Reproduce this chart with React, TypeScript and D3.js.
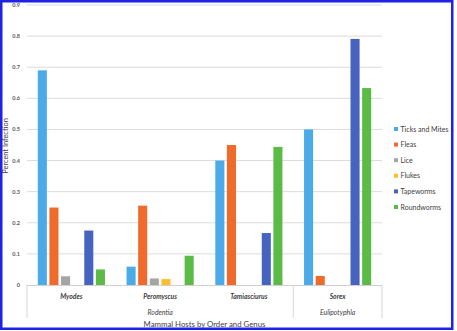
import React, { useRef, useEffect } from "react";
import * as d3 from "d3";

// infection rates by host genus
const genera = ["Myodes", "Peromyscus", "Tamiasciurus", "Sorex"];
const orders = [
  { name: "Rodentia", from: "Myodes", to: "Tamiasciurus" },
  { name: "Eulipotyphla", from: "Sorex", to: "Sorex" },
];
const parasites = ["Ticks and Mites", "Fleas", "Lice", "Flukes", "Tapeworms", "Roundworms"];
const colors = ["#4aabe8", "#ef6a2b", "#a5a5a5", "#fbbf2a", "#4763c0", "#5cba47"];

const ticksAndMites = [0.69, 0.059, 0.4, 0.5];
const fleas = [0.249, 0.255, 0.45, 0.029];
const lice = [0.028, 0.021, 0, 0];
const flukes = [0, 0.019, 0, 0];
const tapeworms = [0.175, 0, 0.167, 0.791];
const roundworms = [0.05, 0.094, 0.444, 0.633];

const yTicks = [0, 0.1, 0.2, 0.3, 0.4, 0.5, 0.6, 0.7, 0.8, 0.9];

const seriesValues = [ticksAndMites, fleas, lice, flukes, tapeworms, roundworms];

const App = () => {
  const chartRef = useRef<HTMLDivElement>(null);

  useEffect(() => {
    const width = 457;
    const height = 331;
    const left = 27;
    const right = 382;
    const top = 5;
    const bottom = 285;
    const font = "Lato, 'Open Sans', sans-serif";

    const root = d3.select(chartRef.current);
    root.selectAll("*").remove();

    const svg = root
      .append("svg")
      .attr("width", width)
      .attr("height", height)
      .style("display", "block")
      .style("background", "#fff");

    const x0 = d3.scaleBand().domain(genera).range([left, right]).padding(0);
    const x1 = d3
      .scaleBand()
      .domain(parasites)
      .range([0, x0.bandwidth()])
      .paddingInner(0.22)
      .paddingOuter(0.93);
    const y = d3.scaleLinear().domain([0, 0.9]).range([bottom, top]);

    // gridlines
    svg
      .append("g")
      .selectAll("line")
      .data(yTicks.slice(1))
      .enter()
      .append("line")
      .attr("x1", left)
      .attr("x2", right)
      .attr("y1", (d) => y(d))
      .attr("y2", (d) => y(d))
      .attr("stroke", "#dcdcdc")
      .attr("stroke-width", 1);

    // y tick labels
    svg
      .append("g")
      .selectAll("text")
      .data(yTicks)
      .enter()
      .append("text")
      .attr("x", 20)
      .attr("y", (d) => y(d) + 2)
      .attr("text-anchor", "end")
      .attr("font-family", font)
      .attr("font-size", 5.5)
      .attr("font-weight", 700)
      .attr("fill", "#595959")
      .text((d) => (d === 0 ? "0" : d3.format(".1f")(d)));

    // bars
    const groups = svg
      .append("g")
      .selectAll("g")
      .data(genera)
      .enter()
      .append("g")
      .attr("transform", (g) => `translate(${x0(g)},0)`);

    groups
      .selectAll("rect")
      .data((g, gi) => parasites.map((p, pi) => ({ p, pi, v: seriesValues[pi][gi] })))
      .enter()
      .filter((d) => d.v > 0)
      .append("rect")
      .attr("x", (d) => x1(d.p) as number)
      .attr("width", x1.bandwidth())
      .attr("y", (d) => y(d.v))
      .attr("height", (d) => bottom - y(d.v))
      .attr("fill", (d) => colors[d.pi]);

    // category axis
    svg
      .append("line")
      .attr("x1", left)
      .attr("x2", right)
      .attr("y1", bottom + 0.5)
      .attr("y2", bottom + 0.5)
      .attr("stroke", "#d0d0d0");

    const separators = [left, x0("Sorex") as number, right];
    svg
      .append("g")
      .selectAll("line")
      .data(separators)
      .enter()
      .append("line")
      .attr("x1", (d) => d)
      .attr("x2", (d) => d)
      .attr("y1", bottom)
      .attr("y2", 318)
      .attr("stroke", "#d6d6d6");

    svg
      .append("g")
      .selectAll("text")
      .data(genera)
      .enter()
      .append("text")
      .attr("x", (g) => (x0(g) as number) + x0.bandwidth() / 2)
      .attr("y", 298.5)
      .attr("text-anchor", "middle")
      .attr("font-family", font)
      .attr("font-size", 6.8)
      .attr("font-weight", 700)
      .attr("font-style", "italic")
      .attr("fill", "#404040")
      .text((g) => g);

    svg
      .append("g")
      .selectAll("text")
      .data(orders)
      .enter()
      .append("text")
      .attr("x", (o) => ((x0(o.from) as number) + (x0(o.to) as number) + x0.bandwidth()) / 2)
      .attr("y", 314.5)
      .attr("text-anchor", "middle")
      .attr("font-family", font)
      .attr("font-size", 6.8)
      .attr("font-style", "italic")
      .attr("fill", "#404040")
      .text((o) => o.name);

    // axis titles
    svg
      .append("text")
      .attr("x", (left + right) / 2)
      .attr("y", 326.5)
      .attr("text-anchor", "middle")
      .attr("font-family", font)
      .attr("font-size", 7.8)
      .attr("fill", "#404040")
      .text("Mammal Hosts by Order and Genus");

    svg
      .append("text")
      .attr("transform", "translate(7.5,146) rotate(-90)")
      .attr("text-anchor", "middle")
      .attr("font-family", font)
      .attr("font-size", 7.4)
      .attr("fill", "#404040")
      .text("Percent Infection");

    // legend
    const legend = svg
      .append("g")
      .selectAll("g")
      .data(parasites)
      .enter()
      .append("g")
      .attr("transform", (p, i) => `translate(394,${129 + i * 15.6})`);

    legend
      .append("rect")
      .attr("x", 0)
      .attr("y", -2)
      .attr("width", 4)
      .attr("height", 4)
      .attr("fill", (p, i) => colors[i]);

    legend
      .append("text")
      .attr("x", 6.5)
      .attr("y", 2.5)
      .attr("font-family", font)
      .attr("font-size", 7)
      .attr("fill", "#404040")
      .text((p) => p);

    // frame
    svg
      .append("rect")
      .attr("x", 1.25)
      .attr("y", 1.25)
      .attr("width", 451)
      .attr("height", 327.5)
      .attr("fill", "none")
      .attr("stroke", "#1d22e6")
      .attr("stroke-width", 2.5);
  }, []);

  return (
    <div
      ref={chartRef}
      style={{ position: "absolute", left: 0, top: 0, width: 457, height: 331 }}
    ></div>
  );
};

export default App;
